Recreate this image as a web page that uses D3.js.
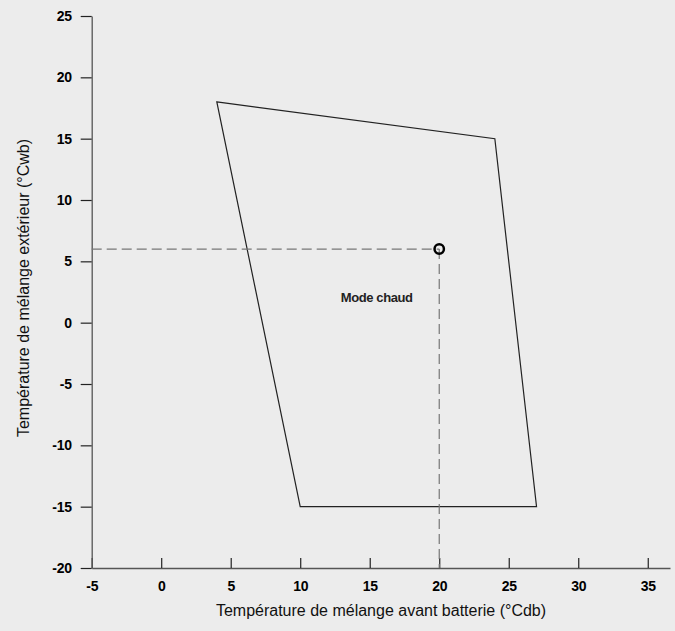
<!DOCTYPE html>
<html lang="fr">
<head>
<meta charset="UTF-8">
<script src="https://d3js.org/d3.v7.min.js"></script>
<style>
  body { margin: 0; background: #ececec; }
  svg { display: block; }
</style>
</head>
<body>
<svg id="chart" width="675" height="631"></svg>
<script>
// data
const xTicks = [-5, 0, 5, 10, 15, 20, 25, 30, 35];
const yTicks = [25, 20, 15, 10, 5, 0, -5, -10, -15, -20];
const zoneX = [4, 24, 27, 10];
const zoneY = [18, 15, -15, -15];
const pointX = [20];
const pointY = [6];
const labelText = ["Mode chaud"];
const labelX = [15.5];
const labelY = [2];

let svg = d3.select("#chart");

// x goes from -5 up to ~36.6 where the axis line ends
let x = d3.scaleLinear().domain([-5, 36.6]).range([91.7, 670]);
let y = d3.scaleLinear().domain([-20, 25]).range([568, 16]);

// plain hyphen for negatives, like the original
let fmt = d => String(d);

// axes
let xAxis = svg.append("g")
    .attr("transform", "translate(0,568)")
    .call(d3.axisBottom(x).tickValues(xTicks).tickFormat(fmt).tickSize(-10).tickSizeOuter(0).tickPadding(4));
let yAxis = svg.append("g")
    .attr("transform", "translate(91.7,0)")
    .call(d3.axisLeft(y).tickValues(yTicks).tickFormat(fmt).tickSize(11).tickSizeOuter(0).tickPadding(9));

// x ticks point up into the plot, y ticks point outwards
xAxis.selectAll(".tick line").attr("y2", -10);
xAxis.selectAll(".tick text").attr("dy", "1.35em");

[xAxis, yAxis].forEach(function(a){
    a.select(".domain").attr("stroke", "#555").attr("stroke-width", 1.3);
    a.selectAll(".tick line").attr("stroke", "#222").attr("stroke-width", 1.2);
    a.selectAll(".tick text")
        .attr("fill", "#000")
        .style("font-family", "'Liberation Sans', Arial, sans-serif")
        .style("font-size", "14px")
        .style("font-weight", "bold")
        .style("letter-spacing", "-0.3px");
});

// axis titles
svg.append("text")
    .attr("x", 381)
    .attr("y", 616)
    .attr("text-anchor", "middle")
    .style("font-family", "'Liberation Sans', Arial, sans-serif")
    .style("font-size", "16px")
    .attr("fill", "#111")
    .text("Température de mélange avant batterie (°Cdb)");

svg.append("text")
    .attr("transform", "translate(29,288) rotate(-90)")
    .attr("text-anchor", "middle")
    .style("font-family", "'Liberation Sans', Arial, sans-serif")
    .style("font-size", "16px")
    .attr("fill", "#111")
    .text("Température de mélange extérieur (°Cwb)");

// operating zone
let pts = zoneX.map((d, i) => [x(d), y(zoneY[i])]);
svg.append("path")
    .attr("d", d3.line()(pts) + "Z")
    .attr("fill", "none")
    .attr("stroke", "#222")
    .attr("stroke-width", 1.2);

// dashed guide lines to the point
pointX.forEach(function(px, i){
    let py = pointY[i];
    svg.append("line")
        .attr("x1", x(-5)).attr("x2", x(px))
        .attr("y1", y(py)).attr("y2", y(py))
        .attr("stroke", "#777").attr("stroke-width", 1.2)
        .attr("stroke-dasharray", "10,5");
    svg.append("line")
        .attr("x1", x(px)).attr("x2", x(px))
        .attr("y1", y(py)).attr("y2", y(-20))
        .attr("stroke", "#777").attr("stroke-width", 1.2)
        .attr("stroke-dasharray", "10,5");
    svg.append("circle")
        .attr("cx", x(px)).attr("cy", y(py))
        .attr("r", 4.7)
        .attr("fill", "none")
        .attr("stroke", "#000")
        .attr("stroke-width", 2.5);
});

// label
labelText.forEach(function(t, i){
    svg.append("text")
        .attr("x", x(labelX[i]))
        .attr("y", y(labelY[i]) + 4)
        .attr("text-anchor", "middle")
        .style("font-family", "'Liberation Sans', Arial, sans-serif")
        .style("font-size", "13px")
        .style("font-weight", "bold")
        .style("letter-spacing", "-0.4px")
        .attr("fill", "#222")
        .text(t);
});
</script>
</body>
</html>
